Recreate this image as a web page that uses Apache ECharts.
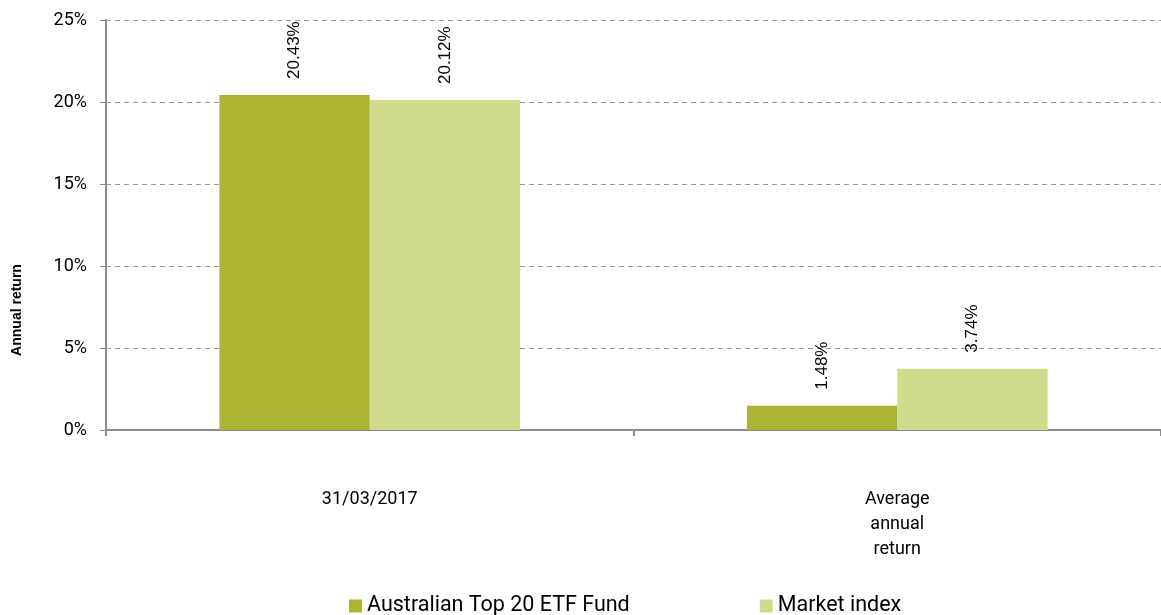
<!DOCTYPE html>
<html>
<head>
<meta charset="utf-8">
<script src="https://cdn.jsdelivr.net/npm/echarts@6/dist/echarts.min.js"></script>
<style>
  html, body { margin: 0; padding: 0; background: #fff; }
  #chart { width: 1161px; height: 615px; }
</style>
</head>
<body>
<div id="chart"></div>
<script>
// data
var categories = ['31/03/2017', 'Average\nannual\nreturn'];
var fundValues = [20.43, 1.48];
var indexValues = [20.12, 3.74];
var seriesNames = ['Australian Top 20 ETF Fund', 'Market index'];

var myChart = echarts.init(document.getElementById('chart'));

var labelStyle = {
    show: true,
    position: 'top',
    rotate: 90,
    align: 'left',
    verticalAlign: 'middle',
    distance: 16,
    fontFamily: 'Liberation Sans',
    fontSize: 17,
    color: '#000',
    formatter: function(p) { return p.value.toFixed(2) + '%'; }
};

var option = {
    animation: false,
    textStyle: { fontFamily: 'Roboto' },
    grid: { left: 106, right: -3, top: 20, bottom: 185 },
    legend: {
        top: 590,
        left: 344,
        itemGap: 130,
        itemWidth: 13,
        itemHeight: 13,
        icon: 'rect',
        textStyle: { fontSize: 21.5, color: '#000', fontFamily: 'Roboto' },
        data: seriesNames
    },
    xAxis: {
        type: 'category',
        data: categories,
        axisLine: { lineStyle: { color: '#8c8c8c', width: 2 } },
        axisTick: { show: true, length: 6, lineStyle: { color: '#8c8c8c', width: 2 } },
        axisLabel: { color: '#000', fontSize: 18, margin: 57, lineHeight: 25 }
    },
    yAxis: {
        type: 'value',
        min: 0,
        max: 25,
        interval: 5,
        axisLine: { show: true, lineStyle: { color: '#8c8c8c', width: 2 } },
        axisTick: { show: true, length: 6, lineStyle: { color: '#8c8c8c', width: 1 } },
        axisLabel: { color: '#000', fontSize: 18, margin: 19, formatter: '{value}%' },
        splitLine: { lineStyle: { color: '#999', type: [5, 4], width: 1 } }
    },
    graphic: [{
        type: 'text',
        x: 17,
        y: 310,
        rotation: Math.PI / 2,
        style: {
            text: 'Annual return',
            fontFamily: 'Liberation Sans',
            fontWeight: 'bold',
            fontSize: 14,
            fill: '#000',
            align: 'center',
            verticalAlign: 'middle'
        }
    }],
    series: [{
        name: seriesNames[0],
        type: 'bar',
        data: fundValues,
        barGap: '0%',
        barCategoryGap: '43%',
        itemStyle: { color: '#abb533' },
        label: labelStyle
    }, {
        name: seriesNames[1],
        type: 'bar',
        data: indexValues,
        itemStyle: { color: '#d0dc8c' },
        label: labelStyle
    }]
};

myChart.setOption(option);
</script>
</body>
</html>
